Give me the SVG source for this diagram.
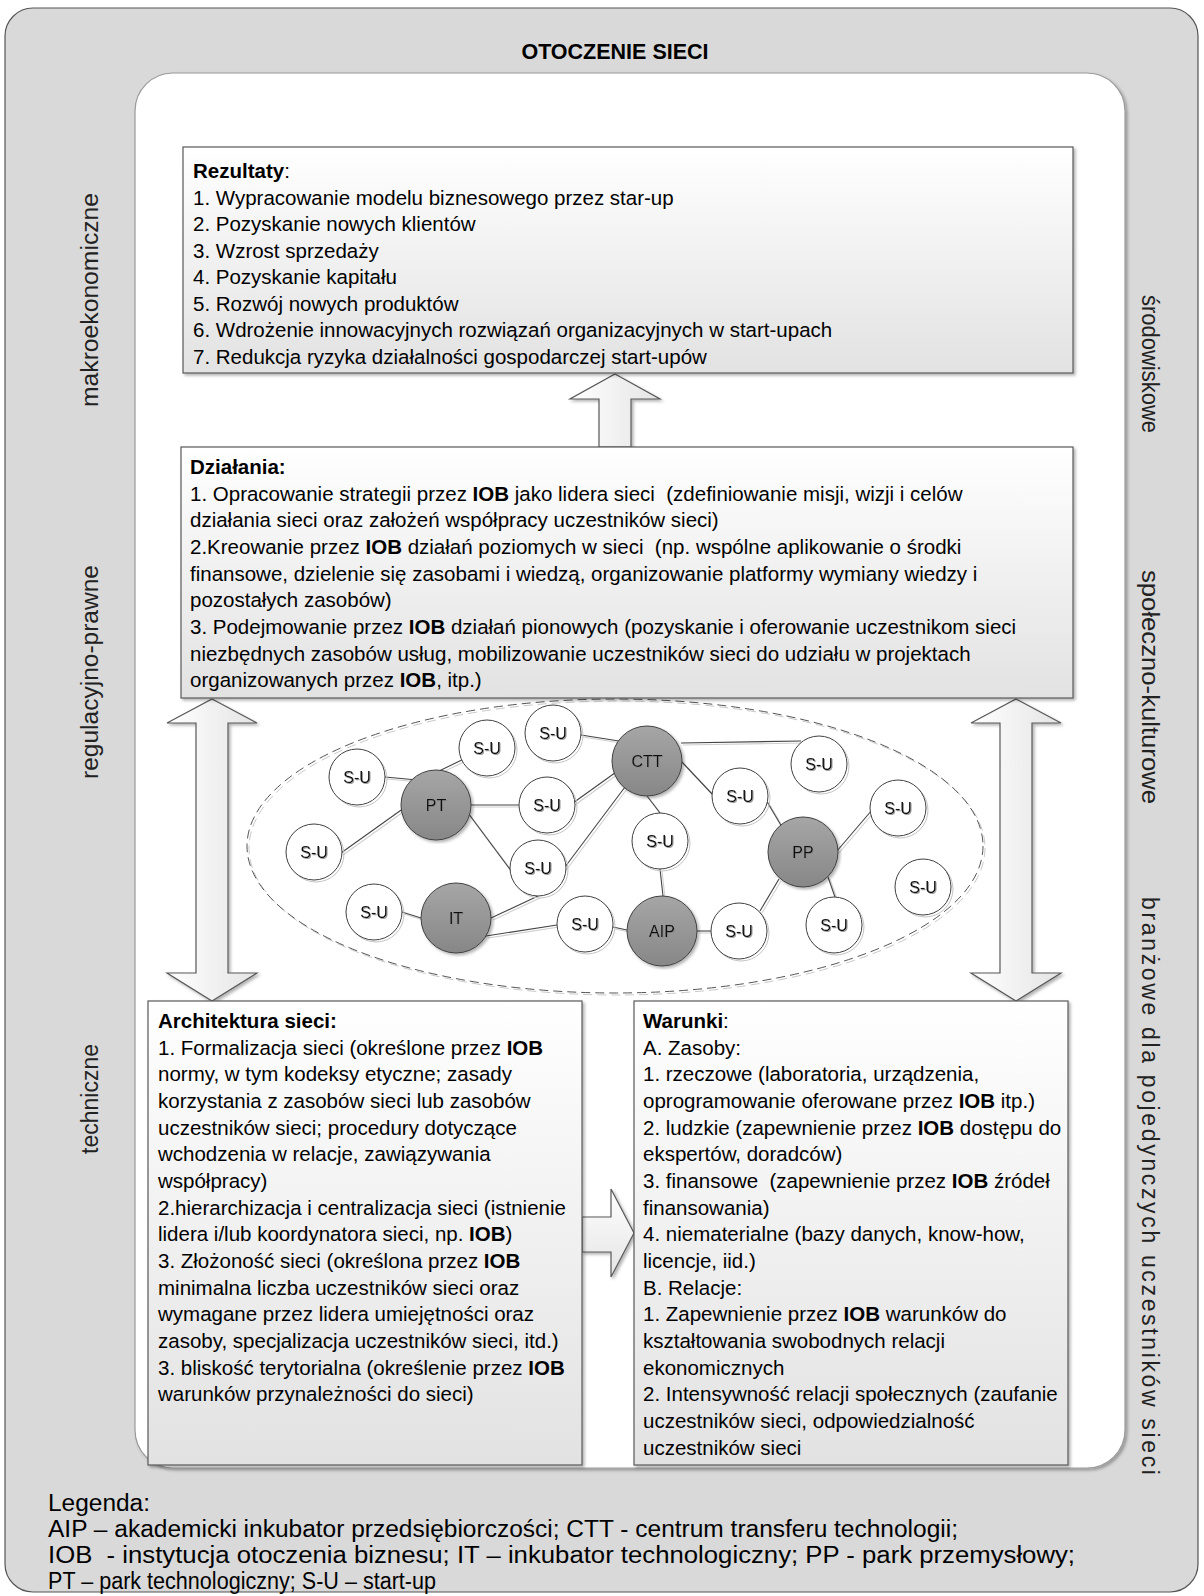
<svg xmlns="http://www.w3.org/2000/svg" width="1204" height="1596" viewBox="0 0 1204 1596">
<defs>
<linearGradient id="gBox" x1="0" y1="0" x2="0" y2="1"><stop offset="0" stop-color="#ffffff"/><stop offset="1" stop-color="#e2e2e2"/></linearGradient>
<linearGradient id="gNode" x1="0" y1="0" x2="0" y2="1"><stop offset="0" stop-color="#a6a6a6"/><stop offset="1" stop-color="#878787"/></linearGradient>
<linearGradient id="gArrV" x1="0" y1="0" x2="1" y2="0"><stop offset="0" stop-color="#ffffff"/><stop offset="1" stop-color="#e4e4e4"/></linearGradient>
<linearGradient id="gArrH" x1="0" y1="0" x2="0" y2="1"><stop offset="0" stop-color="#ffffff"/><stop offset="1" stop-color="#e4e4e4"/></linearGradient>
<filter id="sh" x="-5%" y="-5%" width="110%" height="110%"><feDropShadow dx="2" dy="2" stdDeviation="1.5" flood-color="#000" flood-opacity="0.3"/></filter>
<filter id="ts"><feDropShadow dx="1" dy="1" stdDeviation="0.5" flood-color="#888" flood-opacity="0.8"/></filter>
</defs>
<style>
.t{font-family:"Liberation Sans",Arial,sans-serif;font-size:20.5px;fill:#000}
.b{font-weight:bold}
.side{font-family:"Liberation Sans",Arial,sans-serif;font-size:23px;fill:#222;text-anchor:middle;dominant-baseline:central}
.leg{font-family:"Liberation Sans",Arial,sans-serif;font-size:23px;fill:#000}
.box{fill:url(#gBox);stroke:#595959;stroke-width:1.2;filter:url(#sh)}
.arrV{fill:url(#gArrV);stroke:#595959;stroke-width:1.2;filter:url(#sh)}
.arrH{fill:url(#gArrH);stroke:#595959;stroke-width:1.2;filter:url(#sh)}
.su{fill:#fff;stroke:#404040;stroke-width:1}
.ring{fill:none;stroke:#c4c4c4;stroke-width:1}
.hub{fill:url(#gNode);stroke:#404040;stroke-width:1;filter:url(#sh)}
.edge{stroke:#444;stroke-width:1.1;fill:none}
.edgeS{stroke:#cfcfcf;stroke-width:1.1;fill:none}
.lbl{font-family:"Liberation Sans",Arial,sans-serif;font-size:16px;fill:#111;text-anchor:middle;dominant-baseline:central;filter:url(#ts)}
</style>

<g id="outer">
<rect x="5" y="8" width="1193" height="1584" rx="28" fill="#d9d9d9" stroke="#555" stroke-width="1.2"/>
<text x="615" y="59" class="t b" text-anchor="middle" style="font-size:21.5px">OTOCZENIE SIECI</text>
</g>
<g id="inner">
<rect x="135" y="73" width="990" height="1395" rx="38" fill="#fff" stroke="#9a9a9a" stroke-width="1.2" filter="url(#sh)"/>
</g>

<g id="side-labels">
<text class="side" transform="translate(90,300) rotate(-90)" textLength="214" lengthAdjust="spacingAndGlyphs">makroekonomiczne</text>
<text class="side" transform="translate(90,672) rotate(-90)" textLength="214" lengthAdjust="spacingAndGlyphs">regulacyjno-prawne</text>
<text class="side" transform="translate(90,1099) rotate(-90)">techniczne</text>
<text class="side" transform="translate(1150,364) rotate(90)" textLength="138" lengthAdjust="spacingAndGlyphs">środowiskowe</text>
<text class="side" transform="translate(1150,687) rotate(90)" textLength="234" lengthAdjust="spacingAndGlyphs">społeczno-kulturowe</text>
<text class="side" transform="translate(1150,1186) rotate(90)" textLength="578" lengthAdjust="spacing">branżowe dla pojedynczych uczestników sieci</text>
</g>

<g id="connectors">
<polygon id="arrow-up" class="arrV" points="615,374 660,399 631,399 631,447 599,447 599,399 570,399"/>
<polygon id="arrow-left-double" class="arrV" points="212,699 257,723 228,723 228,973 257,973 212,1001 167,973 196,973 196,723 167,723"/>
<polygon id="arrow-right-double" class="arrV" points="1016,699 1061,723 1032,723 1032,973 1061,973 1016,1001 971,973 1000,973 1000,723 971,723"/>
<polygon id="arrow-right" class="arrH" points="582,1217 611,1217 611,1189 634,1233 611,1277 611,1252 582,1252"/>
<g id="edges-shadow" class="edgeS" transform="translate(2,2)">
<line x1="385" y1="777" x2="417" y2="780"/>
<line x1="470" y1="756" x2="437" y2="772"/>
<line x1="341" y1="853" x2="404" y2="808"/>
<line x1="471" y1="805" x2="519" y2="805"/>
<line x1="468" y1="813" x2="512" y2="872"/>
<line x1="581" y1="735" x2="619" y2="741"/>
<line x1="573" y1="803" x2="619" y2="770"/>
<line x1="562" y1="871" x2="625" y2="787"/>
<line x1="538" y1="896" x2="491" y2="918"/>
<line x1="402" y1="912" x2="421" y2="918"/>
<line x1="486" y1="936" x2="557" y2="925"/>
<line x1="613" y1="927" x2="627" y2="930"/>
<line x1="681" y1="743" x2="801" y2="741"/>
<line x1="682" y1="762" x2="713" y2="795"/>
<line x1="647" y1="796" x2="660" y2="813"/>
<line x1="660" y1="869" x2="663" y2="896"/>
<line x1="766" y1="800" x2="782" y2="827"/>
<line x1="837" y1="851" x2="872" y2="810"/>
<line x1="828" y1="877" x2="835" y2="897"/>
<line x1="779" y1="879" x2="760" y2="911"/>
<line x1="697" y1="931" x2="711" y2="931"/>
</g>
<g id="edges" class="edge">
<line x1="385" y1="777" x2="417" y2="780"/>
<line x1="470" y1="756" x2="437" y2="772"/>
<line x1="341" y1="853" x2="404" y2="808"/>
<line x1="471" y1="805" x2="519" y2="805"/>
<line x1="468" y1="813" x2="512" y2="872"/>
<line x1="581" y1="735" x2="619" y2="741"/>
<line x1="573" y1="803" x2="619" y2="770"/>
<line x1="562" y1="871" x2="625" y2="787"/>
<line x1="538" y1="896" x2="491" y2="918"/>
<line x1="402" y1="912" x2="421" y2="918"/>
<line x1="486" y1="936" x2="557" y2="925"/>
<line x1="613" y1="927" x2="627" y2="930"/>
<line x1="681" y1="743" x2="801" y2="741"/>
<line x1="682" y1="762" x2="713" y2="795"/>
<line x1="647" y1="796" x2="660" y2="813"/>
<line x1="660" y1="869" x2="663" y2="896"/>
<line x1="766" y1="800" x2="782" y2="827"/>
<line x1="837" y1="851" x2="872" y2="810"/>
<line x1="828" y1="877" x2="835" y2="897"/>
<line x1="779" y1="879" x2="760" y2="911"/>
<line x1="697" y1="931" x2="711" y2="931"/>
</g>
</g>

<g id="network-boundary">
<ellipse cx="617" cy="848" rx="368" ry="147" fill="none" stroke="#c8c8c8" stroke-width="1" stroke-dasharray="9,5"/>
<ellipse cx="615" cy="846" rx="368" ry="147" fill="none" stroke="#555" stroke-width="1" stroke-dasharray="9,5"/>
</g>

<g id="box-rezultaty">
<rect class="box" x="183" y="147" width="890" height="226"/>
<text class="t" x="193" y="178"><tspan class="b">Rezultaty</tspan>:</text>
<text class="t" x="193" y="204.5">1. Wypracowanie modelu biznesowego przez star-up</text>
<text class="t" x="193" y="231">2. Pozyskanie nowych klientów</text>
<text class="t" x="193" y="257.5">3. Wzrost sprzedaży</text>
<text class="t" x="193" y="284">4. Pozyskanie kapitału</text>
<text class="t" x="193" y="310.5">5. Rozwój nowych produktów</text>
<text class="t" x="193" y="337">6. Wdrożenie innowacyjnych rozwiązań organizacyjnych w start-upach</text>
<text class="t" x="193" y="363.5">7. Redukcja ryzyka działalności gospodarczej start-upów</text>
</g>

<g id="box-dzialania">
<rect class="box" x="181" y="447" width="892" height="251"/>
<text class="t b" x="190" y="474">Działania:</text>
<text class="t" x="190" y="500.7">1. Opracowanie strategii przez <tspan class="b">IOB</tspan> jako lidera sieci &#160;(zdefiniowanie misji, wizji i celów</text>
<text class="t" x="190" y="527.3">działania sieci oraz założeń współpracy uczestników sieci)</text>
<text class="t" x="190" y="554">2.Kreowanie przez <tspan class="b">IOB</tspan> działań poziomych w sieci &#160;(np. wspólne aplikowanie o środki</text>
<text class="t" x="190" y="580.7">finansowe, dzielenie się zasobami i wiedzą, organizowanie platformy wymiany wiedzy i</text>
<text class="t" x="190" y="607.3">pozostałych zasobów)</text>
<text class="t" x="190" y="634">3. Podejmowanie przez <tspan class="b">IOB</tspan> działań pionowych (pozyskanie i oferowanie uczestnikom sieci</text>
<text class="t" x="190" y="660.7">niezbędnych zasobów usług, mobilizowanie uczestników sieci do udziału w projektach</text>
<text class="t" x="190" y="687.3">organizowanych przez <tspan class="b">IOB</tspan>, itp.)</text>
</g>

<g id="nodes">
<g id="su-1"><circle class="ring" cx="359" cy="779" r="28"/><circle class="su" cx="357" cy="777" r="28"/><text class="lbl" x="357" y="777">S-U</text></g>
<g id="su-2"><circle class="ring" cx="489" cy="750" r="28"/><circle class="su" cx="487" cy="748" r="28"/><text class="lbl" x="487" y="748">S-U</text></g>
<g id="su-3"><circle class="ring" cx="555" cy="735" r="28"/><circle class="su" cx="553" cy="733" r="28"/><text class="lbl" x="553" y="733">S-U</text></g>
<g id="su-4"><circle class="ring" cx="316" cy="854" r="28"/><circle class="su" cx="314" cy="852" r="28"/><text class="lbl" x="314" y="852">S-U</text></g>
<g id="su-5"><circle class="ring" cx="549" cy="807" r="28"/><circle class="su" cx="547" cy="805" r="28"/><text class="lbl" x="547" y="805">S-U</text></g>
<g id="su-6"><circle class="ring" cx="540" cy="870" r="28"/><circle class="su" cx="538" cy="868" r="28"/><text class="lbl" x="538" y="868">S-U</text></g>
<g id="su-7"><circle class="ring" cx="376" cy="914" r="28"/><circle class="su" cx="374" cy="912" r="28"/><text class="lbl" x="374" y="912">S-U</text></g>
<g id="su-8"><circle class="ring" cx="587" cy="926" r="28"/><circle class="su" cx="585" cy="924" r="28"/><text class="lbl" x="585" y="924">S-U</text></g>
<g id="su-9"><circle class="ring" cx="821" cy="766" r="28"/><circle class="su" cx="819" cy="764" r="28"/><text class="lbl" x="819" y="764">S-U</text></g>
<g id="su-10"><circle class="ring" cx="742" cy="798" r="28"/><circle class="su" cx="740" cy="796" r="28"/><text class="lbl" x="740" y="796">S-U</text></g>
<g id="su-11"><circle class="ring" cx="662" cy="843" r="28"/><circle class="su" cx="660" cy="841" r="28"/><text class="lbl" x="660" y="841">S-U</text></g>
<g id="su-12"><circle class="ring" cx="900" cy="810" r="28"/><circle class="su" cx="898" cy="808" r="28"/><text class="lbl" x="898" y="808">S-U</text></g>
<g id="su-13"><circle class="ring" cx="925" cy="889" r="28"/><circle class="su" cx="923" cy="887" r="28"/><text class="lbl" x="923" y="887">S-U</text></g>
<g id="su-14"><circle class="ring" cx="741" cy="933" r="28"/><circle class="su" cx="739" cy="931" r="28"/><text class="lbl" x="739" y="931">S-U</text></g>
<g id="su-15"><circle class="ring" cx="836" cy="927" r="28"/><circle class="su" cx="834" cy="925" r="28"/><text class="lbl" x="834" y="925">S-U</text></g>
<g id="pt"><circle class="hub" cx="436" cy="805" r="35"/><text class="lbl" x="436" y="805">PT</text></g>
<g id="ctt"><circle class="hub" cx="647" cy="761" r="35"/><text class="lbl" x="647" y="761">CTT</text></g>
<g id="it"><circle class="hub" cx="456" cy="918" r="35"/><text class="lbl" x="456" y="918">IT</text></g>
<g id="pp"><circle class="hub" cx="803" cy="852" r="35"/><text class="lbl" x="803" y="852">PP</text></g>
<g id="aip"><circle class="hub" cx="662" cy="931" r="35"/><text class="lbl" x="662" y="931">AIP</text></g>
</g>

<g id="box-architektura">
<rect class="box" x="148" y="1001" width="434" height="464"/>
<text class="t b" x="158" y="1028">Architektura sieci:</text>
<text class="t" x="158" y="1054.7">1. Formalizacja sieci (określone przez <tspan class="b">IOB</tspan></text>
<text class="t" x="158" y="1081.3">normy, w tym kodeksy etyczne; zasady</text>
<text class="t" x="158" y="1108">korzystania z zasobów sieci lub zasobów</text>
<text class="t" x="158" y="1134.7">uczestników sieci; procedury dotyczące</text>
<text class="t" x="158" y="1161.3">wchodzenia w relacje, zawiązywania</text>
<text class="t" x="158" y="1188">współpracy)</text>
<text class="t" x="158" y="1214.7">2.hierarchizacja i centralizacja sieci (istnienie</text>
<text class="t" x="158" y="1241.3">lidera i/lub koordynatora sieci, np. <tspan class="b">IOB</tspan>)</text>
<text class="t" x="158" y="1268">3. Złożoność sieci (określona przez <tspan class="b">IOB</tspan></text>
<text class="t" x="158" y="1294.7">minimalna liczba uczestników sieci oraz</text>
<text class="t" x="158" y="1321.3">wymagane przez lidera umiejętności oraz</text>
<text class="t" x="158" y="1348">zasoby, specjalizacja uczestników sieci, itd.)</text>
<text class="t" x="158" y="1374.7">3. bliskość terytorialna (określenie przez <tspan class="b">IOB</tspan></text>
<text class="t" x="158" y="1401.3">warunków przynależności do sieci)</text>
</g>

<g id="box-warunki">
<rect class="box" x="634" y="1001" width="434" height="464"/>
<text class="t" x="643" y="1028"><tspan class="b">Warunki</tspan>:</text>
<text class="t" x="643" y="1054.7">A. Zasoby:</text>
<text class="t" x="643" y="1081.3">1. rzeczowe (laboratoria, urządzenia,</text>
<text class="t" x="643" y="1108">oprogramowanie oferowane przez <tspan class="b">IOB</tspan> itp.)</text>
<text class="t" x="643" y="1134.7">2. ludzkie (zapewnienie przez <tspan class="b">IOB</tspan> dostępu do</text>
<text class="t" x="643" y="1161.3">ekspertów, doradców)</text>
<text class="t" x="643" y="1188">3. finansowe &#160;(zapewnienie przez <tspan class="b">IOB</tspan> źródeł</text>
<text class="t" x="643" y="1214.7">finansowania)</text>
<text class="t" x="643" y="1241.3">4. niematerialne (bazy danych, know-how,</text>
<text class="t" x="643" y="1268">licencje, iid.)</text>
<text class="t" x="643" y="1294.7">B. Relacje:</text>
<text class="t" x="643" y="1321.3">1. Zapewnienie przez <tspan class="b">IOB</tspan> warunków do</text>
<text class="t" x="643" y="1348">kształtowania swobodnych relacji</text>
<text class="t" x="643" y="1374.7">ekonomicznych</text>
<text class="t" x="643" y="1401.3">2. Intensywność relacji społecznych (zaufanie</text>
<text class="t" x="643" y="1428">uczestników sieci, odpowiedzialność</text>
<text class="t" x="643" y="1454.7">uczestników sieci</text>
</g>

<g id="legend">
<text class="leg" x="48" y="1511" textLength="102" lengthAdjust="spacingAndGlyphs">Legenda:</text>
<text class="leg" x="48" y="1537" textLength="910" lengthAdjust="spacingAndGlyphs">AIP – akademicki inkubator przedsiębiorczości; CTT - centrum transferu technologii;</text>
<text class="leg" x="48" y="1563" textLength="1027" lengthAdjust="spacingAndGlyphs">IOB &#160;- instytucja otoczenia biznesu; IT – inkubator technologiczny; PP - park przemysłowy;</text>
<text class="leg" x="48" y="1589" textLength="388" lengthAdjust="spacingAndGlyphs">PT – park technologiczny; S-U – start-up</text>
</g>
</svg>
